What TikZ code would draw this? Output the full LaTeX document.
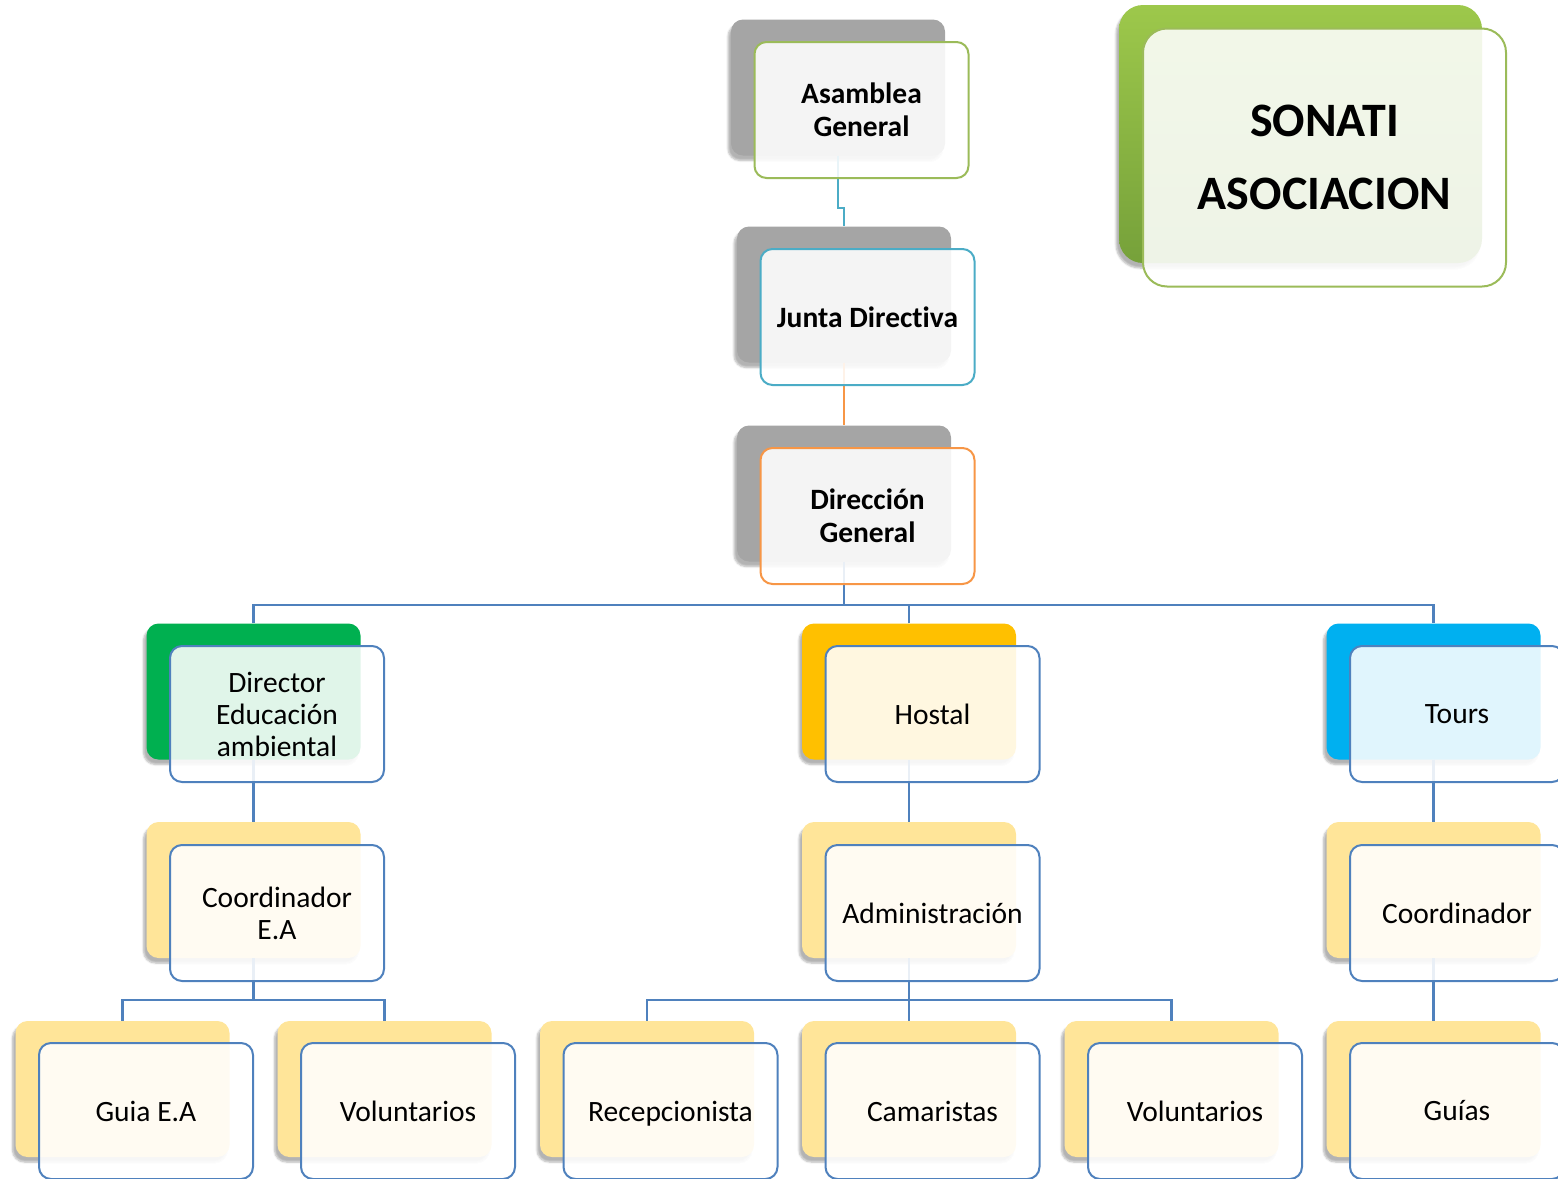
\documentclass[tikz,border=0pt]{standalone}
\usepackage{fontspec}
\setmainfont[Ligatures={NoCommon}]{Carlito}
\usetikzlibrary{shadows.blur,calc}
\definecolor{gback}{HTML}{A5A5A5}
\definecolor{grback}{HTML}{00B050}
\definecolor{yback}{HTML}{FFC000}
\definecolor{bback}{HTML}{00B0F0}
\definecolor{lyback}{HTML}{FFE599}
\definecolor{sgtop}{HTML}{9DC84B}
\definecolor{sgbot}{HTML}{76A13A}
\definecolor{bgreen}{HTML}{9BBB59}
\definecolor{bteal}{HTML}{4BACC6}
\definecolor{borange}{HTML}{F79646}
\definecolor{bblue}{HTML}{4F81BD}
\tikzset{
  backbox/.style={rounded corners=12pt, minimum width=214pt, minimum height=136pt, inner sep=0pt, draw=none,
    blur shadow={shadow xshift=-3pt, shadow yshift=-5pt, shadow blur steps=6, shadow opacity=30}},
  frontbox/.style={rounded corners=12pt, minimum width=214pt, minimum height=136pt, inner sep=0pt,
    fill=white, fill opacity=0.88, text opacity=1, line width=2pt, align=center,
    font=\fontsize{29.5}{32}\selectfont},
  topfont/.style={font=\fontsize{29.5}{33}\selectfont\bfseries},
  link/.style={line width=2.2pt, draw=bblue},
}
\begin{document}
\begin{tikzpicture}[x=1pt,y=-1pt]
\useasboundingbox (0,0) rectangle (1558,1178);
% ---------- back blocks ----------
\node[backbox, fill=gback] (asB) at (838,87.5) {};
\node[backbox, fill=gback] (juB) at (844,294.5) {};
\node[backbox, fill=gback] (diB) at (844,493.5) {};
\node[backbox, rounded corners=24pt, minimum width=363pt, minimum height=258pt, top color=sgtop, bottom color=sgbot] (soB) at (1300.5,134) {};
\node[backbox, fill=grback] (drB) at (253.5,691.5) {};
\node[backbox, fill=yback] (hoB) at (909,691.5) {};
\node[backbox, fill=bback] (toB) at (1433.5,691.5) {};
\node[backbox, fill=lyback] (ceB) at (253.5,890) {};
\node[backbox, fill=lyback] (adB) at (909,890) {};
\node[backbox, fill=lyback] (coB) at (1433.5,890) {};
\node[backbox, fill=lyback] (guB) at (122.5,1089) {};
\node[backbox, fill=lyback] (v1B) at (384.5,1089) {};
\node[backbox, fill=lyback] (reB) at (647,1089) {};
\node[backbox, fill=lyback] (caB) at (909,1089) {};
\node[backbox, fill=lyback] (v2B) at (1171.5,1089) {};
\node[backbox, fill=lyback] (gsB) at (1433.5,1089) {};
% ---------- connectors ----------
\draw[link, draw=bteal] (asB.south) -- ++(0,52) -| (juB.north);
\draw[link, draw=borange] (juB.south) -- (diB.north);
\coordinate (bus1) at ($(diB.south)+(0,43)$);
\draw[link] (diB.south) -- (bus1);
\draw[link] (drB.north) -- (drB.north |- bus1) -- (toB.north |- bus1) -- (toB.north);
\draw[link] (hoB.north) -- (hoB.north |- bus1);
\draw[link] (drB.south) -- (ceB.north);
\draw[link] (hoB.south) -- (adB.north);
\draw[link] (toB.south) -- (coB.north);
\coordinate (bus2) at ($(ceB.south)+(0,42)$);
\draw[link] (ceB.south) -- (bus2);
\draw[link] (guB.north) -- (guB.north |- bus2) -- (v1B.north |- bus2) -- (v1B.north);
\coordinate (bus3) at ($(adB.south)+(0,42)$);
\draw[link] (adB.south) -- (bus3);
\draw[link] (reB.north) -- (reB.north |- bus3) -- (v2B.north |- bus3) -- (v2B.north);
\draw[link] (caB.north) -- (caB.north |- bus3);
\draw[link] (coB.south) -- (gsB.north);
% ---------- front boxes ----------
\node[frontbox, draw=bgreen, topfont] (as) at (861.5,110) {Asamblea\\General};
\node[frontbox, draw=bteal, topfont] (ju) at (867.5,317) {Junta Directiva};
\node[frontbox, draw=borange, topfont] (di) at (867.5,516) {Dirección\\General};
\node[frontbox, draw=bgreen, rounded corners=24pt, minimum width=363pt, minimum height=258pt,
  font=\fontsize{48}{73}\selectfont\bfseries] (so) at (1324.5,157.5) {SONATI\\ASOCIACION};
\node[frontbox, draw=bblue] (dr) at (277,714) {Director\\Educación\\ambiental};
\node[frontbox, draw=bblue] (ho) at (932.5,714) {Hostal};
\node[frontbox, draw=bblue] (to) at (1457,714) {Tours};
\node[frontbox, draw=bblue] (ce) at (277,913) {Coordinador\\E.A};
\node[frontbox, draw=bblue] (ad) at (932.5,913) {Administración};
\node[frontbox, draw=bblue] (co) at (1457,913) {Coordinador};
\node[frontbox, draw=bblue] (gu) at (146,1111) {Guia E.A};
\node[frontbox, draw=bblue] (v1) at (408,1111) {Voluntarios};
\node[frontbox, draw=bblue] (re) at (670.5,1111) {\raisebox{0pt}[\height][0pt]{Recepcionista}};
\node[frontbox, draw=bblue] (ca) at (932.5,1111) {Camaristas};
\node[frontbox, draw=bblue] (v2) at (1195,1111) {Voluntarios};
\node[frontbox, draw=bblue] (gs) at (1457,1111) {Guías};
\end{tikzpicture}
\end{document}
